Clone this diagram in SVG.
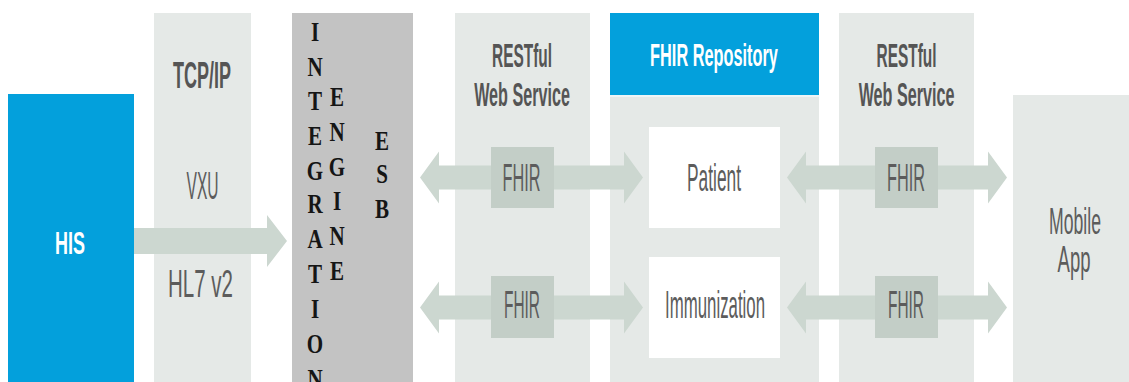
<svg xmlns="http://www.w3.org/2000/svg" width="1129" height="382" viewBox="0 0 1129 382">
<style>
.col{fill:#e5e9e7}
.blue{fill:#03a0dc}
.arr{fill:#ccd7d0}
.lbl{fill:#c3cec7}
.wbox{fill:#ffffff}
.t{font-family:"Liberation Sans",Arial,sans-serif;text-anchor:middle;fill:#5c5c5c}
.b{font-weight:bold;fill:#555555}
.w{fill:#ffffff;font-weight:bold}
.ie{font-family:"Liberation Serif","Times New Roman",serif;font-weight:bold;font-size:27px;text-anchor:middle;fill:#151515}
</style>
<rect width="1129" height="382" fill="#ffffff"/>

<g id="his">
<rect class="blue" x="8" y="94" width="126" height="288"/>
<text class="t w" x="70" y="254" font-size="31" textLength="30" lengthAdjust="spacingAndGlyphs">HIS</text>
</g>

<g id="tcpip">
<rect class="col" x="154" y="13" width="97" height="369"/>
<text class="t b" x="202" y="88" font-size="36" textLength="58" lengthAdjust="spacingAndGlyphs">TCP/IP</text>
<text class="t" x="202.5" y="199" font-size="39" textLength="32" lengthAdjust="spacingAndGlyphs">VXU</text>
<text class="t" x="200.5" y="297" font-size="38" textLength="65" lengthAdjust="spacingAndGlyphs">HL7 v2</text>
</g>

<g id="integration-engine">
<rect x="292" y="13" width="121" height="369" fill="#c3c3c3"/>
<text class="ie" transform="translate(315,41) scale(0.78,1)">I</text>
<text class="ie" transform="translate(315,76) scale(0.78,1)">N</text>
<text class="ie" transform="translate(315,110) scale(0.78,1)">T</text>
<text class="ie" transform="translate(315,145) scale(0.78,1)">E</text>
<text class="ie" transform="translate(315,180) scale(0.78,1)">G</text>
<text class="ie" transform="translate(315,213) scale(0.78,1)">R</text>
<text class="ie" transform="translate(315,248) scale(0.78,1)">A</text>
<text class="ie" transform="translate(315,283) scale(0.78,1)">T</text>
<text class="ie" transform="translate(315,318) scale(0.78,1)">I</text>
<text class="ie" transform="translate(315,353) scale(0.78,1)">O</text>
<text class="ie" transform="translate(315,388) scale(0.78,1)">N</text>
<text class="ie" transform="translate(337,106) scale(0.78,1)">E</text>
<text class="ie" transform="translate(337,141) scale(0.78,1)">N</text>
<text class="ie" transform="translate(337,176) scale(0.78,1)">G</text>
<text class="ie" transform="translate(337,210) scale(0.78,1)">I</text>
<text class="ie" transform="translate(337,245) scale(0.78,1)">N</text>
<text class="ie" transform="translate(337,280) scale(0.78,1)">E</text>
<text class="ie" transform="translate(382,150) scale(0.78,1)">E</text>
<text class="ie" transform="translate(382,183) scale(0.78,1)">S</text>
<text class="ie" transform="translate(382,218) scale(0.78,1)">B</text>
</g>

<g id="restful-1">
<rect class="col" x="455" y="13" width="135" height="369"/>
<text class="t b" font-size="34" transform="translate(522,67) scale(0.454,1)">RESTful</text>
<text class="t b" font-size="34" transform="translate(522,106) scale(0.475,1)">Web Service</text>
</g>

<g id="fhir-repository">
<rect class="col" x="610" y="13" width="209" height="369"/>
<rect class="blue" x="610" y="13" width="209" height="82"/>
<rect x="610" y="95" width="209" height="2" fill="#eef5f7"/>
<text class="t w" font-size="32" transform="translate(714,66) scale(0.51,1)">FHIR Repository</text>
</g>

<g id="restful-2">
<rect class="col" x="839" y="13" width="135" height="369"/>
<text class="t b" font-size="34" transform="translate(906.5,67) scale(0.454,1)">RESTful</text>
<text class="t b" font-size="34" transform="translate(906.5,106) scale(0.475,1)">Web Service</text>
</g>

<g id="mobile-app">
<rect class="col" x="1013" y="95" width="116" height="287"/>
<text class="t" font-size="37" transform="translate(1075,234) scale(0.477,1)">Mobile</text>
<text class="t" font-size="37" transform="translate(1074,272) scale(0.5,1)">App</text>
</g>

<g id="connectors">
<path class="arr" d="M134,228 L267,228 L267,215 L287,241 L267,267 L267,254 L134,254 Z"/>
<path class="arr" d="M420,177.5 L439,151.5 L439,165.5 L624,165.5 L624,151.5 L643,177.5 L624,203.5 L624,189.5 L439,189.5 L439,203.5 Z"/>
<path class="arr" d="M420,307.5 L439,281.5 L439,295.5 L624,295.5 L624,281.5 L643,307.5 L624,333.5 L624,319.5 L439,319.5 L439,333.5 Z"/>
<path class="arr" d="M787,177.5 L806,151.5 L806,165.5 L988,165.5 L988,151.5 L1007,177.5 L988,203.5 L988,189.5 L806,189.5 L806,203.5 Z"/>
<path class="arr" d="M787,307.5 L806,281.5 L806,295.5 L988,295.5 L988,281.5 L1007,307.5 L988,333.5 L988,319.5 L806,319.5 L806,333.5 Z"/>
<rect class="lbl" x="491" y="147" width="63" height="61"/>
<rect class="lbl" x="491" y="276" width="63" height="62"/>
<rect class="lbl" x="875" y="147" width="63" height="61"/>
<rect class="lbl" x="875" y="276" width="63" height="62"/>
<text class="t" x="521.5" y="191" font-size="38" textLength="38" lengthAdjust="spacingAndGlyphs">FHIR</text>
<text class="t" x="522" y="318" font-size="38" textLength="36" lengthAdjust="spacingAndGlyphs">FHIR</text>
<text class="t" x="906" y="191" font-size="38" textLength="38" lengthAdjust="spacingAndGlyphs">FHIR</text>
<text class="t" x="906" y="318" font-size="38" textLength="36" lengthAdjust="spacingAndGlyphs">FHIR</text>
</g>

<g id="patient">
<rect class="wbox" x="649" y="127" width="131" height="101"/>
<text class="t" x="714" y="191" font-size="38" textLength="54" lengthAdjust="spacingAndGlyphs">Patient</text>
</g>

<g id="immunization">
<rect class="wbox" x="649" y="257" width="131" height="101"/>
<text class="t" x="715" y="318" font-size="38" textLength="100" lengthAdjust="spacingAndGlyphs">Immunization</text>
</g>
</svg>
